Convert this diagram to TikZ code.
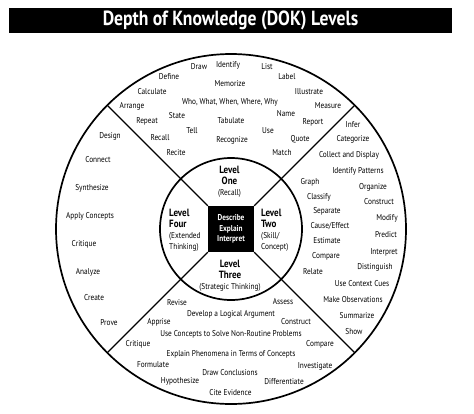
\documentclass[tikz,border=0pt]{standalone}
\usepackage{fontspec}
\setmainfont{PT Sans}[FakeStretch=0.86]
\usepackage{tikz}
\usetikzlibrary{calc}

\begin{document}
\begin{tikzpicture}[x=1pt,y=-1pt,
  word/.style={font=\fontsize{8.5}{9}\selectfont, inner sep=0pt},
  lvl/.style={font=\fontsize{10.5}{11}\selectfont\bfseries, inner sep=0pt},
  ring/.style={line width=1.7pt},
  divider/.style={line width=1.4pt}]
\useasboundingbox (0,0) rectangle (474,413);
\node[fill=black, text=white, minimum width=443pt, minimum height=25pt, inner sep=0pt,
      font=\fontsize{20.5}{22}\selectfont\bfseries] (title) at (230.5,20.5)
      {Depth of Knowledge (DOK) Levels};
\coordinate (c) at (231,229);
\draw[ring] (c) circle (175pt);
\draw[ring] (c) circle (71pt);
\node[fill=black, text=white, minimum size=46pt, inner sep=0pt, align=center,
      font=\fontsize{8.5}{10.5}\selectfont\bfseries] (sq) at (c) {Describe\\Explain\\Interpret};
\foreach \k/\a in {north west/135, north east/45, south west/225, south east/315}
  \draw[divider] (sq.\k) -- ($(c)+(\a:175pt)$);
\node[lvl, align=center] (one) at (229.5,182)
  {Level\\One\\{\mdseries\fontsize{8.5}{11}\selectfont(Recall)}};
\node[lvl, align=left, anchor=west] (two) at (261,230.5)
  {Level\\Two\\{\mdseries\fontsize{8.5}{11}\selectfont(Skill/}\\{\mdseries\fontsize{8.5}{11}\selectfont Concept)}};
\node[lvl, align=center] (three) at (230,276)
  {Level\\Three\\{\mdseries\fontsize{8.5}{11}\selectfont(Strategic Thinking)}};
\node[lvl, align=left, anchor=west] (four) at (169,230.5)
  {Level\\Four\\{\mdseries\fontsize{8.5}{11}\selectfont(Extended}\\{\mdseries\fontsize{8.5}{11}\selectfont Thinking)}};
\foreach \x/\y/\t [count=\i] in {199/67/Draw, 228/65/Identify, 267/67/List, 169/77/Define,
    230/84/Memorize, 287/77/Label, 152/92/Calculate, 309/92/Illustrate,
    230/102/{Who, What, When, Where, Why}, 132/106/Arrange, 328/106/Measure,
    147/121/Repeat, 177/116/State, 231/121/Tabulate, 286/114/Name, 313/122/Report,
    160/138/Recall, 192/131/Tell, 268/131/Use, 232/140/Recognize, 300/139/Quote,
    176/153/Recite, 282/153/Match}
  \node[word] (t\i) at (\x,\y) {\t};
\foreach \x/\y/\t [count=\i] in {353/125/Infer, 353/139/Categorize, 349/155/Collect and Display,
    358/171/Identify Patterns, 310/182/Graph, 373/187/Organize, 319/197/Classify,
    379/202/Construct, 327/211/Separate, 387/218/Modify, 330/226/{Cause/Effect},
    386/235/Predict, 327/241/Estimate, 384/252/Interpret, 326/256/Compare,
    375/267/Distinguish, 313/272/Relate, 362/284/Use Context Cues,
    353/300/Make Observations, 357/316/Summarize, 354/332/Show}
  \node[word] (r\i) at (\x,\y) {\t};
\foreach \x/\y/\t [count=\i] in {177/303/Revise, 283/302/Assess, 231/314/Develop a Logical Argument,
    159/322/Apprise, 296/322/Construct, 231/334/Use Concepts to Solve Non-Routine Problems,
    138/344/Critique, 320/344/Compare, 231/354/Explain Phenomena in Terms of Concepts,
    153/365/Formulate, 315/366/Investigate, 230/373/Draw Conclusions,
    180/381/Hypothesize, 284/382/Differentiate, 230.5/393/Cite Evidence}
  \node[word] (b\i) at (\x,\y) {\t};
\foreach \x/\y/\t [count=\i] in {110/136/Design, 98/160/Connect, 92/188/Synthesize,
    90/216/Apply Concepts, 84/244/Critique, 88/272/Analyze, 94/298/Create, 109/323/Prove}
  \node[word] (l\i) at (\x,\y) {\t};
\end{tikzpicture}
\end{document}
